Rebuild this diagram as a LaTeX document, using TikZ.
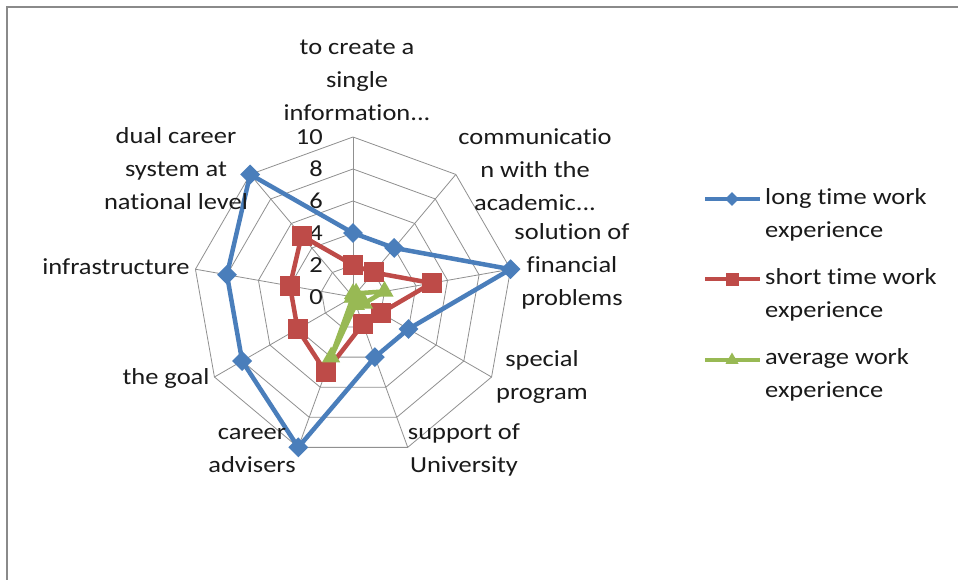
\documentclass[tikz,border=0pt]{standalone}
\usepackage{fontspec}
\setmainfont{Carlito}[Ligatures={NoCommon}]
\usetikzlibrary{shapes.geometric}
\definecolor{cblue}{HTML}{4A7EBB}
\definecolor{cred}{HTML}{BE4B48}
\definecolor{cgreen}{HTML}{98B954}
\definecolor{gridgray}{HTML}{909090}
\definecolor{framegray}{HTML}{8A8A8A}
\definecolor{txt}{HTML}{1A1A1A}
\begin{document}
\begin{tikzpicture}[x=1pt,y=1pt,
  frameline/.style={draw=framegray, line width=2pt},
  gridline/.style={draw=gridgray, line width=0.8pt},
  lbl/.style={font=\fontsize{23}{33}\selectfont, align=center, inner sep=0pt, text=txt, xscale=1.15},
  ticklbl/.style={font=\fontsize{23}{28}\selectfont, anchor=east, inner sep=0pt, text=txt, xscale=1.15},
  leglbl/.style={font=\fontsize{23}{33}\selectfont, align=left, anchor=west, inner sep=0pt, text=txt, xscale=1.15},
  sblue/.style={draw=cblue, line width=4.5pt, line join=round},
  sred/.style={draw=cred, line width=4.5pt, line join=round},
  sgreen/.style={draw=cgreen, line width=4.5pt, line join=round},
  mdia/.style={diamond, fill=cblue, inner sep=0pt, minimum width=20pt, minimum height=20pt},
  msq/.style={rectangle, fill=cred, inner sep=0pt, minimum size=20pt},
  mtri/.style={regular polygon, regular polygon sides=3, fill=cgreen, inner sep=0pt, minimum size=21pt},
  ldia/.style={diamond, fill=cblue, inner sep=0pt, minimum width=14pt, minimum height=14pt},
  lsq/.style={rectangle, fill=cred, inner sep=0pt, minimum size=13pt},
  ltri/.style={regular polygon, regular polygon sides=3, fill=cgreen, inner sep=0pt, minimum size=15pt},
]
\useasboundingbox (0,0) rectangle (958,-580);
\fill[white] (0,0) rectangle (958,-580);
\draw[frameline] (7,-580) -- (7,-7) -- (958,-7);

\begin{scope}[shift={(353,-297)}]
  \coordinate (o) at (0,0);
  \foreach \k in {0,...,8} \coordinate (s\k) at ({90-40*\k}:160);
  % rings
  \foreach \r in {32,64,96,128,160}
    \draw[gridline] (90:\r) -- (50:\r) -- (10:\r) -- (-30:\r) -- (-70:\r) -- (-110:\r) -- (-150:\r) -- (-190:\r) -- (-230:\r) -- cycle;
  % spokes
  \foreach \k in {0,...,8} \draw[gridline] (o) -- (s\k);
  % tick labels
  \foreach \v in {0,2,4,6,8,10}
    \node[ticklbl] (t\v) at (-30,{16*\v}) {\v};

  % data points
  \foreach \v [count=\i from 0] in {4,4,10,4,4,10,8,8,10}
    \coordinate (b\i) at ({90-40*\i}:{16*\v});
  \foreach \v [count=\i from 0] in {2,2,5,2,1.8,5,4,4,5}
    \coordinate (r\i) at ({90-40*\i}:{16*\v});
  \foreach \v [count=\i from 0] in {0.2,0.3,2,0.8,0.5,4,0,0,0}
    \coordinate (g\i) at ({90-40*\i}:{16*\v});

  \draw[sblue] (b0) -- (b1) -- (b2) -- (b3) -- (b4) -- (b5) -- (b6) -- (b7) -- (b8) -- cycle;
  \foreach \i in {0,...,8} \node[mdia] (mb\i) at (b\i) {};
  \draw[sred] (r0) -- (r1) -- (r2) -- (r3) -- (r4) -- (r5) -- (r6) -- (r7) -- (r8) -- cycle;
  \foreach \i in {0,...,8} \node[msq] (mr\i) at (r\i) {};
  \draw[sgreen] (g0) -- (g1) -- (g2) -- (g3) -- (g4) -- (g5) -- (g6) -- (g7) -- (g8) -- cycle;
  \foreach \i in {0,...,8} \node[mtri] (mg\i) at (g\i) {};
\end{scope}

% axis labels
\node[lbl] (a0) at (357,-80) {to create a\\single\\information...};
\node[lbl] (a1) at (535,-170) {communicatio\\n with the\\academic...};
\node[lbl] (a2) at (572,-266) {solution of\\financial\\problems};
\node[lbl] (a3) at (542,-377) {special\\program};
\node[lbl] (a4) at (464,-450) {support of\\University};
\node[lbl] (a5) at (252,-450) {career\\advisers};
\node[lbl] (a6) at (166,-378) {the goal};
\node[lbl] (a7) at (116,-267) {infrastructure};
\node[lbl] (a8) at (176,-169) {dual career\\system at\\national level};

% legend
\coordinate (lb1) at (705,-199); \coordinate (lb2) at (760,-199);
\coordinate (lr1) at (705,-279); \coordinate (lr2) at (760,-279);
\coordinate (lg1) at (705,-360); \coordinate (lg2) at (760,-360);
\draw[draw=cblue, line width=4pt] (lb1) -- (lb2);
\node[ldia] (lbm) at (732,-199) {};
\draw[draw=cred, line width=4pt] (lr1) -- (lr2);
\node[lsq] (lrm) at (732,-279) {};
\draw[draw=cgreen, line width=4pt] (lg1) -- (lg2);
\node[ltri] (lgm) at (732,-360) {};
\node[leglbl] (lbt) at (765,-215) {long time work\\experience};
\node[leglbl] (lrt) at (765,-295) {short time work\\experience};
\node[leglbl] (lgt) at (765,-375) {average work\\experience};
\end{tikzpicture}
\end{document}
